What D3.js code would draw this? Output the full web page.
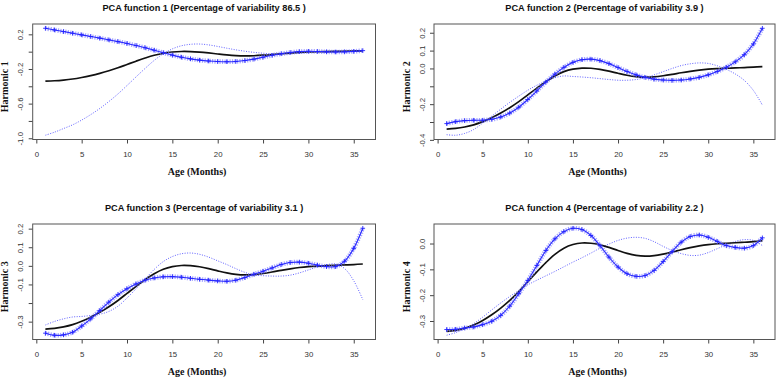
<!DOCTYPE html>
<meta charset="utf-8">
<style>
body { margin: 0; background: #fff; }
.title { font: bold 9.2px "Liberation Sans", Arial, sans-serif; fill: #111; }
.axis text { font: 7.8px "Liberation Sans", Arial, sans-serif; fill: #333; }
.axis line { stroke: #444; }
.axis path { display: none; }
.lab { font: bold 10px "Liberation Serif", "Times New Roman", serif; fill: #111; }
.box { fill: none; stroke: #555; }
.mean { fill: none; stroke: #111; stroke-width: 1.7; }
.plusband { fill: none; stroke: #7f7fff; stroke-width: 4.6; stroke-dasharray: 1.2 1.3; opacity: 0.7; }
.pluscore { fill: none; stroke: #2a2aff; stroke-width: 1.1; }
.plusmark { fill: none; stroke: #2222ff; stroke-width: 0.9; }
.minus { fill: none; stroke: #4545ff; stroke-width: 1; stroke-dasharray: 1 1.5; opacity: 0.85; }
</style>
<body>
<svg width="777" height="379"></svg>
<script src="https://d3js.org/d3.v7.min.js"></script>
<script>

// age in months (argument values)
var ages = [1,2,3,4,5,6,7,8,9,10,11,12,13,14,15,16,17,18,19,20,21,22,23,24,25,26,27,28,29,30,31,32,33,34,35,36];

// mean function, same in every panel
var meanCurve = [-0.340,-0.336,-0.328,-0.316,-0.298,-0.276,-0.250,-0.220,-0.186,-0.148,-0.110,-0.074,-0.042,-0.018,-0.004,0.002,0.001,-0.005,-0.015,-0.027,-0.038,-0.046,-0.049,-0.047,-0.041,-0.033,-0.024,-0.016,-0.009,-0.004,-0.001,0.001,0.003,0.005,0.007,0.010];

// mean + harmonic ("+" markers) and mean - harmonic (dotted)
var plus1 = [0.270,0.251,0.232,0.213,0.194,0.175,0.156,0.136,0.116,0.095,0.071,0.045,0.017,-0.012,-0.040,-0.064,-0.083,-0.098,-0.108,-0.114,-0.116,-0.113,-0.103,-0.086,-0.064,-0.042,-0.024,-0.010,0.000,0.004,0.002,-0.002,-0.004,-0.002,0.003,0.012];
var minus1 = [-0.965,-0.930,-0.888,-0.845,-0.790,-0.727,-0.656,-0.576,-0.488,-0.391,-0.291,-0.193,-0.101,-0.024,0.032,0.068,0.085,0.088,0.078,0.060,0.040,0.021,0.005,-0.008,-0.018,-0.024,-0.024,-0.022,-0.018,-0.012,-0.004,0.004,0.010,0.012,0.011,0.008];

var plus2 = [-0.309,-0.298,-0.292,-0.290,-0.290,-0.285,-0.272,-0.250,-0.217,-0.174,-0.126,-0.076,-0.032,0.006,0.034,0.049,0.052,0.044,0.027,0.005,-0.017,-0.036,-0.050,-0.060,-0.065,-0.067,-0.065,-0.059,-0.050,-0.036,-0.017,0.007,0.037,0.077,0.137,0.225];
var minus2 = [-0.371,-0.374,-0.364,-0.342,-0.306,-0.267,-0.228,-0.190,-0.155,-0.122,-0.094,-0.072,-0.052,-0.042,-0.045,-0.048,-0.052,-0.057,-0.062,-0.066,-0.066,-0.062,-0.052,-0.036,-0.018,0.000,0.016,0.026,0.031,0.028,0.015,-0.005,-0.031,-0.067,-0.123,-0.205];

var plus3 = [-0.362,-0.373,-0.371,-0.357,-0.324,-0.285,-0.240,-0.195,-0.155,-0.123,-0.097,-0.077,-0.065,-0.059,-0.058,-0.061,-0.067,-0.072,-0.077,-0.081,-0.083,-0.077,-0.063,-0.045,-0.029,-0.011,0.007,0.018,0.020,0.014,0.004,-0.004,-0.004,0.025,0.094,0.202];
var minus3 = [-0.318,-0.299,-0.285,-0.275,-0.272,-0.267,-0.260,-0.245,-0.217,-0.173,-0.123,-0.071,-0.019,0.023,0.050,0.065,0.069,0.062,0.047,0.027,0.007,-0.015,-0.035,-0.049,-0.053,-0.055,-0.055,-0.050,-0.038,-0.022,-0.006,0.006,0.010,-0.015,-0.080,-0.182];

var plus4 = [-0.333,-0.332,-0.327,-0.323,-0.314,-0.301,-0.278,-0.242,-0.194,-0.143,-0.085,-0.027,0.018,0.046,0.059,0.054,0.031,-0.008,-0.053,-0.091,-0.117,-0.127,-0.124,-0.104,-0.070,-0.031,0.005,0.027,0.033,0.024,0.008,-0.008,-0.015,-0.018,-0.008,0.022];
var minus4 = [-0.355,-0.345,-0.330,-0.310,-0.285,-0.257,-0.230,-0.205,-0.182,-0.160,-0.142,-0.125,-0.108,-0.090,-0.072,-0.055,-0.037,-0.018,-0.002,0.012,0.021,0.024,0.020,0.007,-0.011,-0.027,-0.039,-0.046,-0.045,-0.035,-0.020,-0.005,0.008,0.015,0.012,-0.008];

var pctVariability = ["86.5", "3.9", "3.1", "2.2"];

var xTicks = [0, 5, 10, 15, 20, 25, 30, 35];
// all tick marks, and the ones R actually labelled
var yTicks1 = [0.2, 0, -0.2, -0.4, -0.6, -0.8, -1.0], yLabels1 = [0.2, -0.2, -0.6, -1.0];
var yTicks2 = [0.2, 0.1, 0, -0.1, -0.2, -0.3, -0.4], yLabels2 = [0.2, 0.1, 0, -0.2, -0.4];
var yTicks3 = [0.2, 0.1, 0, -0.1, -0.2, -0.3], yLabels3 = [0.2, 0.1, 0, -0.1, -0.3];
var yTicks4 = [0, -0.1, -0.2, -0.3], yLabels4 = [0, -0.1, -0.2, -0.3];

var panels = [
  {plus: plus1, minus: minus1, ticks: yTicks1, labels: yLabels1, col: 0, row: 0},
  {plus: plus2, minus: minus2, ticks: yTicks2, labels: yLabels2, col: 1, row: 0},
  {plus: plus3, minus: minus3, ticks: yTicks3, labels: yLabels3, col: 0, row: 1},
  {plus: plus4, minus: minus4, ticks: yTicks4, labels: yLabels4, col: 1, row: 1}
];

var svg = d3.select("svg");

// plot regions (R par(mfrow=c(2,2)) layout, image was resized)
var colX = [[32.7, 375.5], [434, 775]];
var rowY = [[24, 139.5], [224, 339.5]];

// R style axis range: data range stretched by 4% each side
function rRange(vals) {
  var e = d3.extent(vals), pad = (e[1] - e[0]) * 0.04;
  return [e[0] - pad, e[1] + pad];
}

function fmt(v) {
  var s = Math.abs(v) < 1e-9 ? "0.0" : v.toFixed(1);
  return s;
}

panels.forEach(function(p, i) {
  var x0 = colX[p.col][0], x1 = colX[p.col][1];
  var y0 = rowY[p.row][0], y1 = rowY[p.row][1];

  var x = d3.scaleLinear().domain(rRange(ages)).range([x0, x1]);
  var y = d3.scaleLinear().domain(rRange(meanCurve.concat(p.plus, p.minus))).range([y1, y0]);

  var g = svg.append("g");

  g.append("text")
      .attr("class", "title")
      .attr("x", (x0 + x1) / 2)
      .attr("y", y0 - 13)
      .attr("text-anchor", "middle")
      .text("PCA function " + (i + 1) + " (Percentage of variability " + pctVariability[i] + " )");

  g.append("g")
      .attr("class", "axis")
      .attr("transform", "translate(0," + y1 + ")")
      .call(d3.axisBottom(x).tickValues(xTicks).tickSize(4).tickPadding(7.5).tickFormat(d3.format("d")));

  var yAxis = g.append("g")
      .attr("class", "axis")
      .attr("transform", "translate(" + x0 + ",0)")
      .call(d3.axisLeft(y).tickValues(p.ticks).tickSize(4)
          .tickFormat(function(v) { return p.labels.indexOf(v) >= 0 ? fmt(v) : ""; }));
  yAxis.selectAll("text")
      .attr("x", 0)
      .attr("dy", 0)
      .attr("text-anchor", "middle")
      .attr("transform", "translate(-9.5,0) rotate(-90)");

  g.append("text")
      .attr("class", "lab")
      .attr("text-anchor", "middle")
      .attr("transform", "translate(" + (x0 - 24.5) + "," + ((y0 + y1) / 2 + 5) + ") rotate(-90)")
      .text("Harmonic " + (i + 1));

  g.append("text")
      .attr("class", "lab")
      .attr("text-anchor", "middle")
      .attr("x", (x0 + x1) / 2 - 7)
      .attr("y", y1 + 35)
      .text("Age (Months)");

  var line = function(vals) {
    return d3.line()
        .x(function(d, j) { return x(ages[j]); })
        .y(function(d) { return y(d); })
        .curve(d3.curveCatmullRom.alpha(0.5))(vals);
  };

  g.append("path").attr("class", "minus").attr("d", line(p.minus));
  g.append("path").attr("class", "mean").attr("d", line(meanCurve));
  g.append("path").attr("class", "plusband").attr("d", line(p.plus));
  g.append("path").attr("class", "pluscore").attr("d", line(p.plus));

  g.selectAll(".plusmark")
      .data(p.plus)
      .enter().append("path")
      .attr("class", "plusmark")
      .attr("transform", function(d, j) { return "translate(" + x(ages[j]) + "," + y(d) + ")"; })
      .attr("d", "M-2.3,0H2.3M0,-2.3V2.3");

  g.append("rect")
      .attr("class", "box")
      .attr("x", x0).attr("y", y0)
      .attr("width", x1 - x0).attr("height", y1 - y0);
});

</script>
</body>
